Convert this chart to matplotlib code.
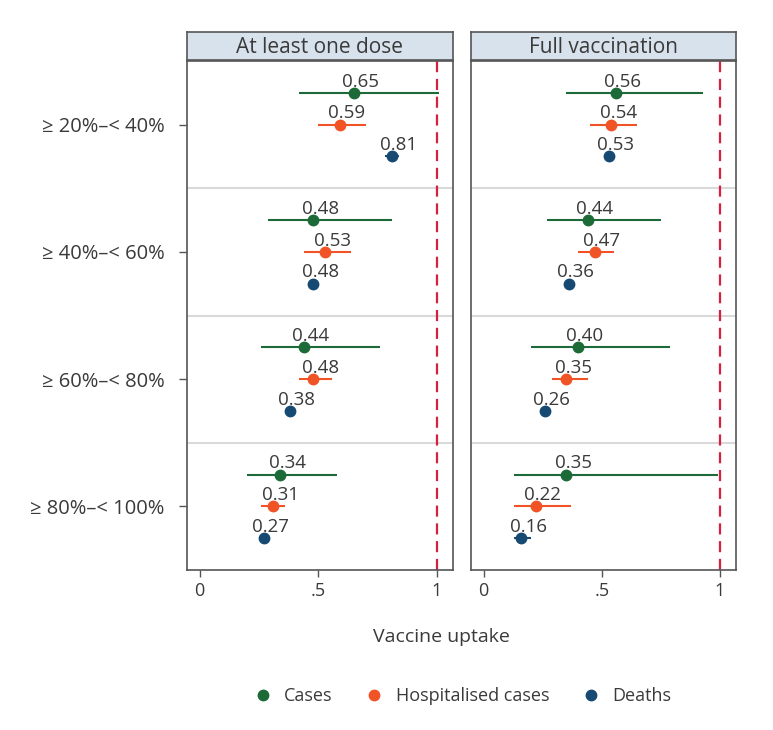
import numpy as np
import matplotlib.pyplot as plt
from matplotlib.lines import Line2D

plt.rcParams['font.family'] = ['Open Sans', 'DejaVu Sans']

groups = ['≥ 20%–< 40%', '≥ 40%–< 60%', '≥ 60%–< 80%', '≥ 80%–< 100%']
panels = ['At least one dose', 'Full vaccination']
series = ['Cases', 'Hospitalised cases', 'Deaths']

# at least one dose
cases_one = [0.65, 0.48, 0.44, 0.34]
cases_one_lo = [0.42, 0.29, 0.26, 0.20]
cases_one_hi = [1.01, 0.81, 0.76, 0.58]
hosp_one = [0.59, 0.53, 0.48, 0.31]
hosp_one_lo = [0.50, 0.44, 0.42, 0.26]
hosp_one_hi = [0.70, 0.64, 0.56, 0.36]
deaths_one = [0.81, 0.48, 0.38, 0.27]
deaths_one_lo = [0.78, 0.47, 0.37, 0.26]
deaths_one_hi = [0.84, 0.49, 0.39, 0.28]

# full vaccination
cases_full = [0.56, 0.44, 0.40, 0.35]
cases_full_lo = [0.35, 0.27, 0.20, 0.13]
cases_full_hi = [0.93, 0.75, 0.79, 0.99]
hosp_full = [0.54, 0.47, 0.35, 0.22]
hosp_full_lo = [0.45, 0.40, 0.29, 0.13]
hosp_full_hi = [0.65, 0.55, 0.44, 0.37]
deaths_full = [0.53, 0.36, 0.26, 0.16]
deaths_full_lo = [0.52, 0.35, 0.25, 0.13]
deaths_full_hi = [0.54, 0.37, 0.27, 0.20]

colors = ['#1c6a37', '#f05426', '#174a73']
offsets = [-0.25, 0.0, 0.25]
text_col = '#3a3a3a'

data = [
    [(cases_one, cases_one_lo, cases_one_hi),
     (hosp_one, hosp_one_lo, hosp_one_hi),
     (deaths_one, deaths_one_lo, deaths_one_hi)],
    [(cases_full, cases_full_lo, cases_full_hi),
     (hosp_full, hosp_full_lo, hosp_full_hi),
     (deaths_full, deaths_full_lo, deaths_full_hi)],
]

fig = plt.figure(figsize=(7.73, 7.30), dpi=100)
lefts = [187 / 773, 471 / 773]
widths = [266 / 773, 265 / 773]
bottom = 1 - 570 / 730
height = 509 / 730

for p in range(2):
    ax = fig.add_axes([lefts[p], bottom, widths[p], height])
    ypos = np.arange(len(groups))
    for s in range(3):
        est, lo, hi = data[p][s]
        y = ypos + offsets[s]
        ax.hlines(y, lo, hi, color=colors[s], lw=1.5, zorder=2)
        ax.plot(est, y, 'o', color=colors[s], ms=7.5, zorder=3)
        for xv, yv in zip(est, y):
            ax.annotate('%.2f' % xv, (xv, yv), xytext=(5, 4.5), textcoords='offset points',
                        ha='center', va='baseline', fontsize=13.5, color=text_col)
    for sep in ypos[:-1] + 0.5:
        ax.axhline(sep, color='#d9d9d9', lw=1.5, zorder=1)
    ax.axvline(1, color='#d3213f', lw=1.6, ls=(0, (5, 3)), zorder=1)
    ax.set_xlim(-0.053, 1.068)
    ax.set_ylim(3.5, -0.5)
    ax.set_xticks([0, 0.5, 1])
    ax.set_xticklabels(['0', '.5', '1'])
    ax.tick_params(axis='x', length=5, width=1, color='#555555', labelsize=13,
                   labelcolor=text_col, pad=4)
    if p == 0:
        ax.set_yticks(ypos)
        ax.set_yticklabels(groups)
        ax.tick_params(axis='y', length=6, width=1, color='#555555', labelsize=14.5,
                       labelcolor=text_col, pad=10)
    else:
        ax.set_yticks([])
    for sp in ax.spines.values():
        sp.set_color('#555555')
        sp.set_linewidth(1.2)

    hax = fig.add_axes([lefts[p], 1 - 60 / 730, widths[p], 28 / 730])
    hax.set_facecolor('#d8e2ec')
    hax.set_xticks([])
    hax.set_yticks([])
    for sp in hax.spines.values():
        sp.set_color('#555555')
        sp.set_linewidth(1.2)
    hax.text(0.5, 0.45, panels[p], ha='center', va='center', fontsize=15,
             color=text_col, transform=hax.transAxes)

fig.text(441 / 773, 1 - 637 / 730, 'Vaccine uptake', ha='center', va='center',
         fontsize=14, color=text_col)

handles = [Line2D([], [], marker='o', ls='none', color=c, ms=7.5) for c in colors]
fig.legend(handles, series, loc='center', bbox_to_anchor=(458 / 773, 1 - 696 / 730),
           ncol=3, frameon=False, fontsize=13, handletextpad=0.2, columnspacing=1.3,
           labelcolor=text_col)

fig.savefig('out.png', dpi=100)
